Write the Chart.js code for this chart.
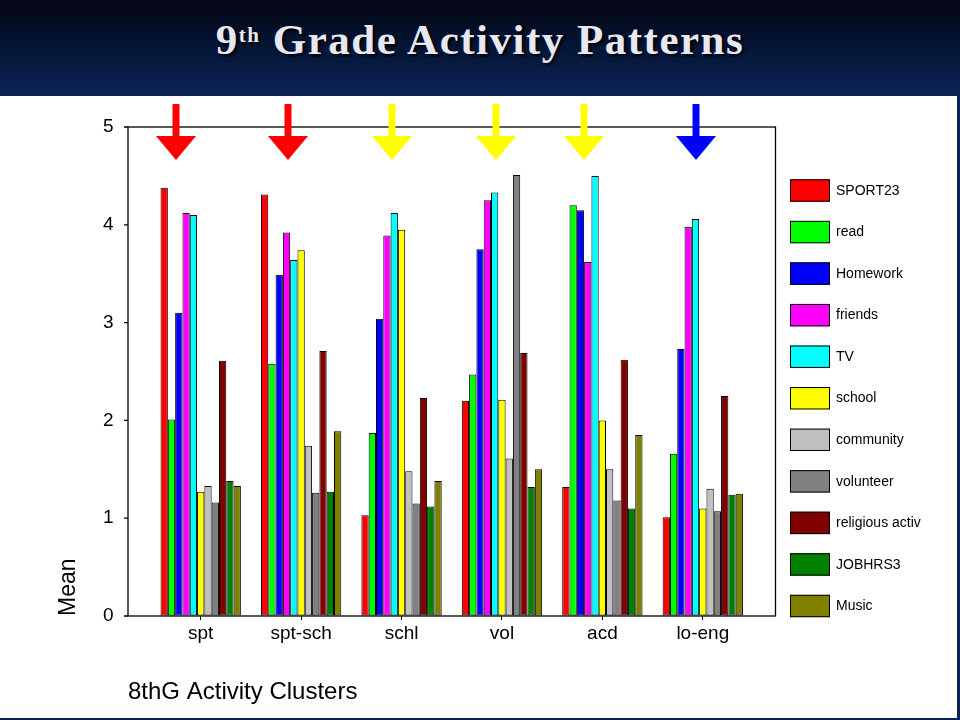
<!DOCTYPE html>
<html>

<head>
    <title>9th Grade Activity Patterns</title>
    <script src="https://cdn.jsdelivr.net/npm/chart.js"></script>
    <style>
        body { margin: 0; width: 960px; height: 720px; background: #0a2356; overflow: hidden; position: relative; }
        #header { position: absolute; left: 0; top: 0; width: 960px; height: 96px;
            background: linear-gradient(#08061a 0px, #060a1a 12px, #03102a 32px, #0b2457 96px); }
        #title { position: absolute; left: 0; top: 18px; width: 960px; margin: 0; text-align: center;
            font: bold 43px "Liberation Serif", "Times New Roman", serif; line-height: 43px;
            color: #e8e8f4; letter-spacing: 1.5px; text-shadow: 2px 2px 3px #000; }
        #title sup { font-size: 21px; position: relative; top: -12px; vertical-align: baseline; }
        #panel { position: absolute; left: 0; top: 96px; width: 957px; height: 622px; background: #fff; }
    </style>
</head>

<body>
    <div id="header"><h1 id="title">9<sup>th</sup> Grade Activity Patterns</h1></div>
    <div id="panel"> <!-- white slide area holding the chart -->
        <canvas id="myChart" width="957" height="622"></canvas>
    </div>

    <script>
        // categories (8th grade clusters) and mean values per activity
        const categories = ['spt', 'spt-sch', 'schl', 'vol', 'acd', 'lo-eng'];
        const sport23   = [4.38, 4.31, 1.03, 2.20, 1.32, 1.01];
        const read      = [2.01, 2.58, 1.87, 2.47, 4.20, 1.66];
        const homework  = [3.10, 3.49, 3.04, 3.75, 4.15, 2.73];
        const friends   = [4.12, 3.92, 3.89, 4.25, 3.62, 3.98];
        const tv        = [4.10, 3.64, 4.12, 4.33, 4.50, 4.06];
        const school    = [1.27, 3.74, 3.95, 2.21, 2.00, 1.10];
        const community = [1.33, 1.74, 1.48, 1.61, 1.50, 1.30];
        const volunteer = [1.16, 1.26, 1.15, 4.51, 1.18, 1.07];
        const religious = [2.61, 2.71, 2.23, 2.69, 2.62, 2.25];
        const jobhrs3   = [1.38, 1.27, 1.12, 1.32, 1.10, 1.24];
        const music     = [1.33, 1.89, 1.38, 1.50, 1.85, 1.25];
        const yTicks = [0, 1, 2, 3, 4, 5];

        const seriesNames = ['SPORT23', 'read', 'Homework', 'friends', 'TV', 'school',
            'community', 'volunteer', 'religious activ', 'JOBHRS3', 'Music'];
        const seriesValues = [sport23, read, homework, friends, tv, school,
            community, volunteer, religious, jobhrs3, music];
        const seriesColors = ['#ff0000', '#00ff00', '#0000ff', '#ff00ff', '#00ffff', '#ffff00',
            '#c0c0c0', '#808080', '#800000', '#008000', '#808000'];

        // hand-drawn arrows above the clusters (slide annotation)
        const arrows = [
            { x: 176, color: '#ff0000' }, { x: 288, color: '#ff0000' },
            { x: 392, color: '#ffff00' }, { x: 496, color: '#ffff00' },
            { x: 584, color: '#ffff00' }, { x: 696, color: '#0000ff' }
        ];

        const FONT = 'Arial, "Liberation Sans", sans-serif';
        const FRAME_PAD = 22.5; // plot frame is wider than the category band
        Chart.defaults.font.family = FONT;
        Chart.defaults.color = '#000';

        const decor = {
            id: 'decor',
            afterDraw(chart) {
                const ctx = chart.ctx;
                const a = chart.chartArea;
                const yScale = chart.scales.y;
                const L = a.left - FRAME_PAD, R = a.right + FRAME_PAD;
                ctx.save();
                // frame
                ctx.strokeStyle = '#000';
                ctx.lineWidth = 1.3;
                ctx.strokeRect(L, a.top, R - L, a.bottom - a.top);
                // y tick marks
                ctx.beginPath();
                yScale.ticks.forEach(t => {
                    const py = yScale.getPixelForValue(t.value);
                    ctx.moveTo(L - 4, py);
                    ctx.lineTo(L, py);
                });
                ctx.stroke();
                // x axis title
                ctx.fillStyle = '#000';
                ctx.font = '24px ' + FONT;
                ctx.textBaseline = 'alphabetic';
                ctx.textAlign = 'left';
                ctx.fillText('8thG Activity Clusters', L, 603);
                // legend
                ctx.font = '14px ' + FONT;
                ctx.textBaseline = 'middle';
                ctx.lineWidth = 1;
                chart.data.datasets.forEach((ds, i) => {
                    const by = 83.3 + i * 41.55;
                    ctx.fillStyle = ds.backgroundColor;
                    ctx.fillRect(790, by, 40, 22.4);
                    ctx.strokeRect(790.5, by + 0.5, 39, 21.4);
                    ctx.fillStyle = '#000';
                    ctx.fillText(ds.label, 836, by + 11.5);
                });
                // arrows
                arrows.forEach(ar => {
                    ctx.fillStyle = ar.color;
                    ctx.fillRect(ar.x - 3.5, 8, 7, 34);
                    ctx.beginPath();
                    ctx.moveTo(ar.x - 20, 40);
                    ctx.lineTo(ar.x + 20, 40);
                    ctx.lineTo(ar.x, 64);
                    ctx.closePath();
                    ctx.fill();
                });
                ctx.restore();
            }
        };

        const ctx = document.getElementById('myChart').getContext('2d');
        const myChart = new Chart(ctx, {
            type: 'bar',
            data: {
                labels: categories,
                datasets: seriesNames.map((name, i) => ({
                    label: name,
                    data: seriesValues[i],
                    backgroundColor: seriesColors[i],
                    borderColor: '#000',
                    borderWidth: 1,
                    borderSkipped: false,
                    categoryPercentage: 0.8,
                    barPercentage: 1.0
                }))
            },
            options: {
                responsive: false,
                animation: false,
                layout: { padding: { left: 55, right: 204, top: 31, bottom: 74 } },
                plugins: { legend: { display: false }, tooltip: { enabled: false } },
                scales: {
                    x: {
                        offset: true,
                        grid: { display: true, drawOnChartArea: false, drawTicks: true, tickLength: 4, offset: false, color: '#000' },
                        border: { display: false },
                        ticks: { color: '#000', font: { size: 19 }, padding: 2, maxRotation: 0 },
                        afterFit: s => { s.height = 28; }
                    },
                    y: {
                        min: yTicks[0],
                        max: yTicks[yTicks.length - 1],
                        afterBuildTicks: s => { s.ticks = yTicks.map(v => ({ value: v })); },
                        // invisible tick marks push the labels out to the wider frame
                        grid: { display: true, drawOnChartArea: false, drawTicks: true, tickLength: 32, color: 'rgba(0,0,0,0)' },
                        border: { display: false },
                        ticks: { color: '#000', font: { size: 19 }, padding: 5 },
                        title: { display: true, text: 'Mean', align: 'start', color: '#000',
                            font: { size: 23 }, padding: { top: 0, bottom: 26 } },
                        afterFit: s => { s.width = 95.5; }
                    }
                }
            },
            plugins: [decor]
        });
    </script>

</body>

</html>
